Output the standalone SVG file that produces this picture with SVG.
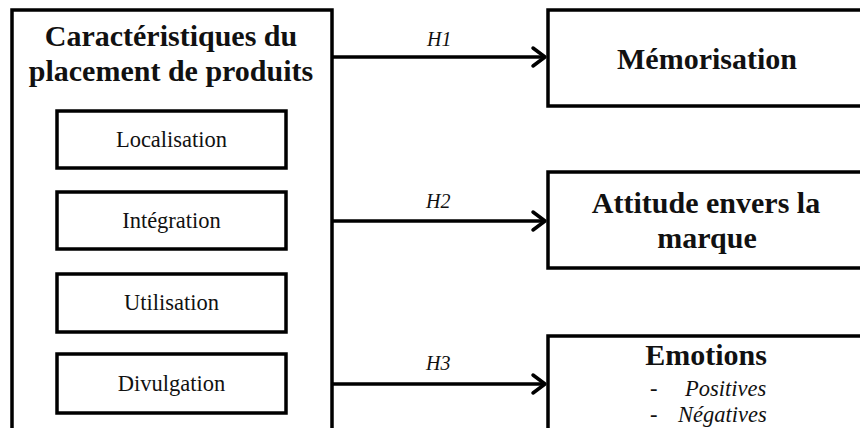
<svg xmlns="http://www.w3.org/2000/svg" width="860" height="428" viewBox="0 0 860 428">
<style>
.box{fill:#fff;stroke:#000;stroke-width:3.5}
.ib{fill:#fff;stroke:#000;stroke-width:3.5}
.t{font-family:"Liberation Serif","Times New Roman",serif;fill:#111}
.b{font-weight:bold;font-size:30px}
.r{font-size:22.5px}
.h{font-style:italic;font-size:20px}
.it{font-style:italic;font-size:22.5px}
.ln{stroke:#000;stroke-width:3.5;fill:none}
.ah{stroke:#000;stroke-width:3.5;fill:none;stroke-linecap:round;stroke-linejoin:round}
</style>
<rect width="860" height="428" fill="#fff"/>
<g id="source">
<rect class="box" x="12" y="10" width="320" height="430"/>
<text class="t b" x="171" y="46" text-anchor="middle">Caractéristiques du</text>
<text class="t b" x="171" y="81" text-anchor="middle">placement de produits</text>
</g>
<g id="localisation">
<rect class="ib" x="57" y="111" width="229" height="57"/>
<text class="t r" x="171.5" y="147" text-anchor="middle">Localisation</text>
</g>
<g id="integration">
<rect class="ib" x="57" y="192" width="229" height="57"/>
<text class="t r" x="171.5" y="228" text-anchor="middle">Intégration</text>
</g>
<g id="utilisation">
<rect class="ib" x="57" y="274" width="229" height="58"/>
<text class="t r" x="171.5" y="310" text-anchor="middle">Utilisation</text>
</g>
<g id="divulgation">
<rect class="ib" x="57" y="354" width="229" height="59"/>
<text class="t r" x="171.5" y="391" text-anchor="middle">Divulgation</text>
</g>
<g id="memorisation">
<rect class="box" x="548" y="10" width="320" height="96"/>
<text class="t b" x="707" y="69" text-anchor="middle">Mémorisation</text>
</g>
<g id="attitude">
<rect class="box" x="548" y="172" width="320" height="96"/>
<text class="t b" x="706" y="213" text-anchor="middle">Attitude envers la</text>
<text class="t b" x="707" y="248" text-anchor="middle">marque</text>
</g>
<g id="emotions">
<rect class="box" x="548" y="336" width="320" height="110"/>
<text class="t b" x="706" y="365" text-anchor="middle">Emotions</text>
<text class="t it" x="650" y="396" font-style="normal">-</text>
<text class="t it" x="685" y="396">Positives</text>
<text class="t it" x="650" y="422" font-style="normal">-</text>
<text class="t it" x="678" y="422">Négatives</text>
</g>
<g id="connectors">
<line class="ln" x1="332" y1="57" x2="545" y2="57"/>
<polyline class="ah" points="533,48 545,57 533,66"/>
<text class="t h" x="427" y="46">H1</text>
<line class="ln" x1="332" y1="221" x2="545" y2="221"/>
<polyline class="ah" points="533,212 545,221 533,230"/>
<text class="t h" x="426" y="208">H2</text>
<line class="ln" x1="332" y1="384" x2="545" y2="384"/>
<polyline class="ah" points="533,375 545,384 533,393"/>
<text class="t h" x="426" y="370">H3</text>
</g>
</svg>
